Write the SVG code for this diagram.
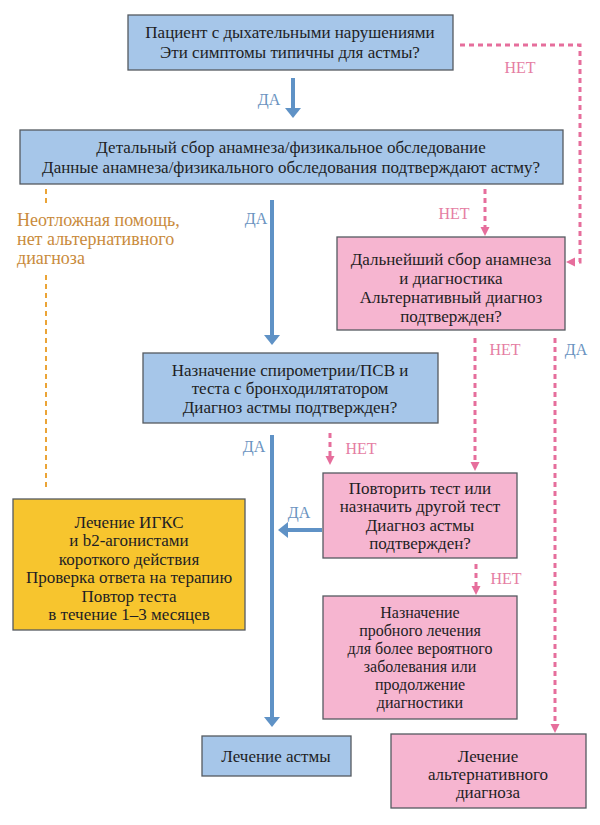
<svg xmlns="http://www.w3.org/2000/svg" width="600" height="825" viewBox="0 0 600 825" font-family="'Liberation Serif', 'DejaVu Serif', 'Times New Roman', serif">
<defs>
<style>
text{font-family:'Liberation Serif','DejaVu Serif','Times New Roman',serif}
.bx{stroke:#555a60;stroke-width:1.3}
.blue{fill:#a6c6e9}
.pink{fill:#f6b5d0}
.yel{fill:#f7c52e}
.t{font-size:17px;fill:#1e1e24;text-anchor:middle}
.s{font-size:16px}
.lb{font-size:16px;text-anchor:middle}
.da{fill:#6a93bf}
.net{fill:#e57ea3}
.or{font-size:18px;fill:#c98b3c}
.bl{fill:none;stroke:#5f92c6;stroke-width:4}
.pk{fill:none;stroke:#e66e9c;stroke-width:3;stroke-dasharray:5 4}
.og{fill:none;stroke:#eba436;stroke-width:2;stroke-dasharray:5 4}
</style>
<marker id="ab" markerWidth="4" markerHeight="4" refX="1" refY="2" orient="auto" markerUnits="strokeWidth"><path d="M0,0 L2.5,2 L0,4 Z" fill="#5f92c6"/></marker>
<marker id="ap" markerWidth="4" markerHeight="4" refX="1" refY="2" orient="auto" markerUnits="strokeWidth"><path d="M0,0.5 L3,2 L0,3.5 Z" fill="#e66e9c"/></marker>
</defs>
<rect width="600" height="825" fill="#ffffff"/>
<g id="connectors">
<path class="bl" d="M293,78 V112" marker-end="url(#ab)"/>
<path class="bl" d="M272,200 V339" marker-end="url(#ab)"/>
<path class="bl" d="M272,435 V721" marker-end="url(#ab)"/>
<path class="bl" d="M322,530 H284" marker-end="url(#ab)"/>
<path class="pk" d="M460,45 H580 V262 H572" marker-end="url(#ap)"/>
<path class="pk" d="M485,189 V230" marker-end="url(#ap)"/>
<path class="pk" d="M475,338 V465" marker-end="url(#ap)"/>
<path class="pk" d="M555,338 V727" marker-end="url(#ap)"/>
<path class="pk" d="M330,433 V459" marker-end="url(#ap)"/>
<path class="pk" d="M476,564 V589" marker-end="url(#ap)"/>
<path class="og" d="M46,189 V207"/>
<path class="og" d="M46,275 V487"/>
<text class="lb da" x="269" y="105">ДА</text>
<text class="lb net" x="520" y="73">НЕТ</text>
<text class="lb da" x="256" y="224">ДА</text>
<text class="lb net" x="454" y="219">НЕТ</text>
<text class="lb net" x="505" y="355">НЕТ</text>
<text class="lb da" x="576" y="355">ДА</text>
<text class="lb da" x="254" y="452">ДА</text>
<text class="lb net" x="361" y="454">НЕТ</text>
<text class="lb da" x="299" y="518">ДА</text>
<text class="lb net" x="506" y="584">НЕТ</text>
<text class="or" x="17" y="226">Неотложная помощь,</text>
<text class="or" x="17" y="245">нет альтернативного</text>
<text class="or" x="17" y="264">диагноза</text>
</g>
<g id="n1">
<rect class="bx blue" x="128" y="15" width="325" height="55"/>
<text class="t" x="290" y="38">Пациент с дыхательными нарушениями</text>
<text class="t" x="290" y="58">Эти симптомы типичны для астмы?</text>
</g>
<g id="n2">
<rect class="bx blue" x="20" y="130" width="543" height="54"/>
<text class="t" x="291" y="153">Детальный сбор анамнеза/физикальное обследование</text>
<text class="t" x="291" y="173">Данные анамнеза/физикального обследования подтверждают астму?</text>
</g>
<g id="n3">
<rect class="bx pink" x="337" y="237" width="228" height="93"/>
<text class="t" x="451" y="265">Дальнейший сбор анамнеза</text>
<text class="t" x="451" y="284">и диагностика</text>
<text class="t" x="451" y="303">Альтернативный диагноз</text>
<text class="t" x="451" y="322">подтвержден?</text>
</g>
<g id="n4">
<rect class="bx blue" x="143" y="353" width="295" height="70"/>
<text class="t" x="290" y="376">Назначение спирометрии/ПСВ и</text>
<text class="t" x="290" y="394">теста с бронходилятатором</text>
<text class="t" x="290" y="413">Диагноз астмы подтвержден?</text>
</g>
<g id="n5">
<rect class="bx pink" x="323" y="473" width="194" height="85"/>
<text class="t" x="420" y="494">Повторить тест или</text>
<text class="t" x="420" y="512">назначить другой тест</text>
<text class="t" x="420" y="531">Диагноз астмы</text>
<text class="t" x="420" y="549">подтвержден?</text>
</g>
<g id="n6">
<rect class="bx yel" x="13" y="499" width="232" height="131"/>
<text class="t" x="129" y="528">Лечение ИГКС</text>
<text class="t" x="129" y="546">и b2-агонистами</text>
<text class="t" x="129" y="565">короткого действия</text>
<text class="t" x="129" y="583">Проверка ответа на терапию</text>
<text class="t" x="129" y="602">Повтор теста</text>
<text class="t" x="129" y="620">в течение 1–3 месяцев</text>
</g>
<g id="n7">
<rect class="bx pink" x="323" y="596" width="194" height="123"/>
<text class="t s" x="420" y="618">Назначение</text>
<text class="t s" x="420" y="636">пробного лечения</text>
<text class="t s" x="420" y="654">для более вероятного</text>
<text class="t s" x="420" y="672">заболевания или</text>
<text class="t s" x="420" y="690">продолжение</text>
<text class="t s" x="420" y="708">диагностики</text>
</g>
<g id="n8">
<rect class="bx blue" x="202" y="736" width="149" height="40"/>
<text class="t" x="276" y="762">Лечение астмы</text>
</g>
<g id="n9">
<rect class="bx pink" x="391" y="734" width="195" height="74"/>
<text class="t" x="488" y="762">Лечение</text>
<text class="t" x="488" y="780">альтернативного</text>
<text class="t" x="488" y="798">диагноза</text>
</g>
</svg>
